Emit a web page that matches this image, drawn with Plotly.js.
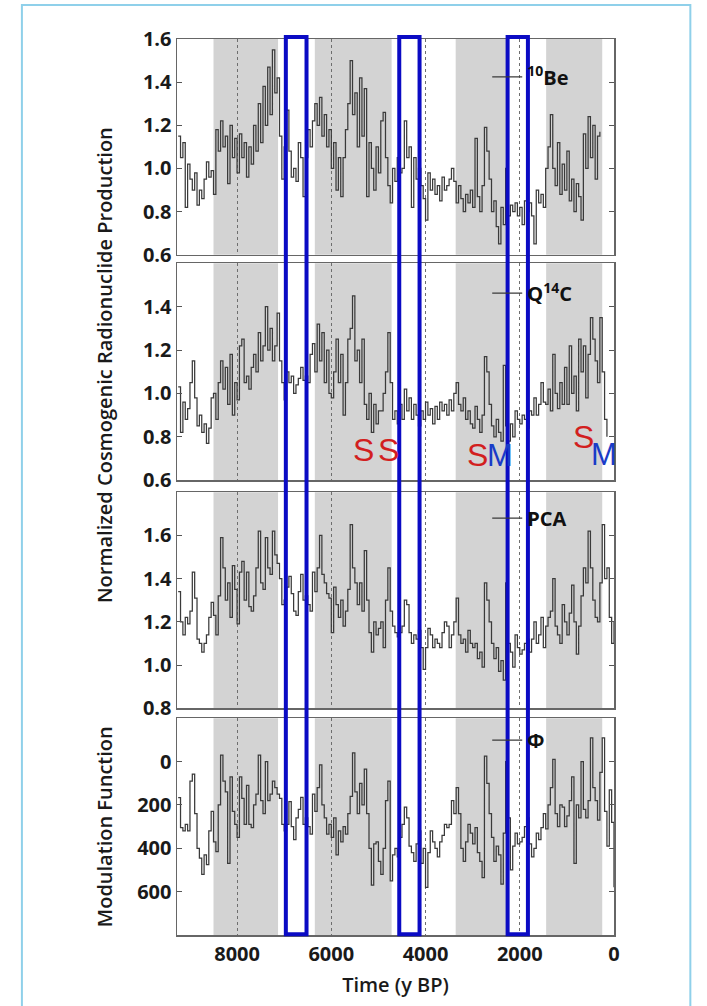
<!DOCTYPE html>
<html>
<head>
<meta charset="utf-8">
<script src="https://cdn.plot.ly/plotly-3.0.1.min.js"></script>
<style>
  html, body { margin: 0; padding: 0; background: #ffffff; }
  #chart { width: 707px; height: 1006px; }
</style>
</head>
<body>
<div id="chart"></div>
<script>
// Time axis (years before present), 50-year sampling
const YEARS = [
  9250, 9200, 9150, 9100, 9050, 9000, 8950, 8900, 8850, 8800,
  8750, 8700, 8650, 8600, 8550, 8500, 8450, 8400, 8350, 8300,
  8250, 8200, 8150, 8100, 8050, 8000, 7950, 7900, 7850, 7800,
  7750, 7700, 7650, 7600, 7550, 7500, 7450, 7400, 7350, 7300,
  7250, 7200, 7150, 7100, 7050, 7000, 6950, 6900, 6850, 6800,
  6750, 6700, 6650, 6600, 6550, 6500, 6450, 6400, 6350, 6300,
  6250, 6200, 6150, 6100, 6050, 6000, 5950, 5900, 5850, 5800,
  5750, 5700, 5650, 5600, 5550, 5500, 5450, 5400, 5350, 5300,
  5250, 5200, 5150, 5100, 5050, 5000, 4950, 4900, 4850, 4800,
  4750, 4700, 4650, 4600, 4550, 4500, 4450, 4400, 4350, 4300,
  4250, 4200, 4150, 4100, 4050, 4000, 3950, 3900, 3850, 3800,
  3750, 3700, 3650, 3600, 3550, 3500, 3450, 3400, 3350, 3300,
  3250, 3200, 3150, 3100, 3050, 3000, 2950, 2900, 2850, 2800,
  2750, 2700, 2650, 2600, 2550, 2500, 2450, 2400, 2350, 2300,
  2250, 2200, 2150, 2100, 2050, 2000, 1950, 1900, 1850, 1800,
  1750, 1700, 1650, 1600, 1550, 1500, 1450, 1400, 1350, 1300,
  1250, 1200, 1150, 1100, 1050, 1000, 950, 900, 850, 800,
  750, 700, 650, 600, 550, 500, 450, 400, 350, 300,
  250, 200, 150, 100, 50, 0
];

// 10Be normalized production (9250 .. 300 y BP)
const BE10 = [
  1.15, 1.05, 1.12, 0.82, 1.02, 0.95, 0.90, 0.98, 0.83, 0.90,
  0.86, 0.95, 1.03, 0.96, 0.99, 0.88, 1.18, 1.08, 1.22, 1.10,
  1.15, 0.93, 1.20, 1.05, 1.14, 0.98, 1.16, 1.05, 1.12, 0.96,
  1.10, 1.02, 1.20, 1.08, 1.30, 1.12, 1.38, 1.20, 1.47, 1.25,
  1.55, 1.35, 1.42, 1.15, 0.95, 1.10, 1.27, 1.08, 0.96, 1.00,
  0.94, 1.12, 1.05, 0.87, 1.05, 1.18, 1.10, 1.22, 1.30, 1.20,
  1.33, 1.15, 1.25, 1.10, 1.18, 1.00, 1.12, 0.90, 1.05, 0.87,
  1.05, 1.18, 1.30, 1.50, 1.25, 1.35, 1.10, 1.42, 1.15, 1.37,
  0.87, 1.12, 1.00, 0.90, 1.10, 0.98, 1.22, 1.26, 1.05, 0.92,
  0.84, 1.00, 0.94, 1.05, 0.98, 1.00, 1.22, 1.05, 1.10, 0.82,
  1.05, 0.95, 1.00, 0.92, 0.86, 0.76, 0.98, 0.90, 0.95, 0.88,
  0.92, 0.85, 0.96, 0.90, 0.92, 0.95, 1.00, 0.94, 0.84, 0.92,
  0.86, 0.80, 0.88, 0.84, 0.90, 0.82, 1.14, 0.87, 0.80, 0.92,
  1.19, 1.08, 0.95, 0.80, 0.85, 0.73, 0.65, 0.82, 0.74, 1.00,
  0.78, 0.83, 0.80, 0.84, 0.78, 0.82, 0.74, 0.85, 0.80, 0.84,
  0.78, 0.65, 0.90, 0.84, 0.88, 0.82, 1.00, 1.10, 1.25, 1.00,
  0.92, 1.12, 0.88, 1.02, 0.90, 1.08, 0.85, 0.95, 0.80, 0.93,
  0.87, 0.76, 1.16, 1.00, 1.24, 1.05, 1.20, 0.95, 1.15, 1.17
];

// Q14C normalized production (9250 .. 150 y BP)
const Q14C = [
  1.03, 0.82, 0.96, 0.88, 0.93, 1.05, 1.15, 0.98, 0.85, 0.90,
  0.82, 0.86, 0.77, 0.84, 0.98, 1.00, 0.88, 1.05, 1.15, 1.02,
  1.12, 0.95, 1.18, 0.90, 1.05, 0.97, 1.22, 1.25, 1.05, 1.08,
  1.02, 1.12, 1.18, 1.10, 1.28, 1.15, 1.22, 1.40, 1.20, 1.30,
  1.15, 1.22, 1.37, 1.15, 1.05, 0.97, 1.10, 1.05, 1.08, 1.00,
  1.04, 1.07, 1.12, 1.06, 1.08, 1.05, 1.18, 1.23, 1.10, 1.32,
  1.15, 1.28, 1.05, 1.20, 1.00, 0.98, 1.10, 1.25, 1.05, 1.18,
  0.90, 1.05, 1.25, 1.30, 1.45, 1.15, 1.20, 1.05, 1.25, 0.95,
  0.88, 1.00, 0.82, 0.95, 0.86, 0.92, 0.92, 1.00, 1.10, 1.28,
  1.05, 0.88, 0.92, 0.86, 0.95, 0.88, 1.02, 0.92, 0.98, 0.88,
  0.95, 0.90, 0.85, 0.92, 0.88, 0.96, 0.90, 0.93, 0.86, 0.94,
  0.88, 0.96, 0.92, 0.95, 0.90, 0.97, 0.92, 1.00, 1.05, 0.95,
  0.92, 0.98, 0.88, 0.92, 0.86, 0.84, 0.94, 0.88, 0.82, 0.90,
  1.17, 1.10, 0.95, 0.85, 0.80, 0.88, 0.82, 0.78, 1.13, 0.85,
  0.78, 0.86, 0.80, 0.92, 0.88, 0.86, 0.90, 0.88, 0.84, 0.92,
  0.90, 0.98, 0.90, 0.95, 1.05, 0.96, 0.95, 1.02, 0.92, 1.18,
  1.00, 0.93, 1.05, 0.95, 1.12, 0.95, 1.22, 1.00, 1.08, 0.92,
  1.25, 1.10, 1.22, 0.98, 1.18, 1.35, 1.25, 1.15, 1.05, 1.35,
  1.10, 0.88, 0.80
];

// First principal component of the two records (9250 .. 0 y BP)
const PCA = [
  1.34, 1.20, 1.14, 1.22, 1.19, 1.25, 1.43, 1.31, 1.12, 1.10,
  1.06, 1.10, 1.14, 1.22, 1.29, 1.23, 1.14, 1.32, 1.59, 1.45,
  1.30, 1.38, 1.22, 1.46, 1.35, 1.19, 1.43, 1.48, 1.30, 1.43,
  1.27, 1.25, 1.32, 1.45, 1.62, 1.38, 1.35, 1.59, 1.45, 1.42,
  1.62, 1.51, 1.47, 1.40, 1.28, 1.30, 1.36, 1.41, 1.33, 1.25,
  1.23, 1.34, 1.42, 1.30, 1.32, 1.28, 1.25, 1.43, 1.34, 1.45,
  1.60, 1.42, 1.38, 1.33, 1.31, 1.15, 1.36, 1.28, 1.22, 1.30,
  1.18, 1.25, 1.35, 1.65, 1.45, 1.38, 1.28, 1.38, 1.25, 1.53,
  1.30, 1.15, 1.06, 1.20, 1.14, 1.17, 1.20, 1.08, 1.30, 1.45,
  1.25, 1.18, 1.15, 1.13, 1.15, 1.18, 1.30, 1.28, 1.15, 1.10,
  1.14, 1.12, 1.16, 1.08, 0.98, 1.08, 1.17, 1.14, 1.08, 1.12,
  1.10, 1.08, 1.15, 1.20, 1.18, 1.08, 1.14, 1.20, 1.31, 1.14,
  1.10, 1.12, 1.06, 1.16, 1.10, 1.08, 1.10, 1.03, 1.06, 0.99,
  1.38, 1.30, 1.20, 1.10, 1.03, 1.08, 0.97, 1.02, 0.93, 1.38,
  1.10, 1.06, 0.99, 1.14, 1.08, 1.05, 1.07, 1.10, 1.12, 1.06,
  1.12, 1.20, 1.10, 1.14, 1.22, 1.08, 1.18, 1.22, 1.25, 1.40,
  1.18, 1.14, 1.10, 1.28, 1.20, 1.14, 1.24, 1.37, 1.20, 1.05,
  1.18, 1.32, 1.45, 1.38, 1.62, 1.45, 1.30, 1.22, 1.20, 1.38,
  1.65, 1.40, 1.45, 1.22, 1.10, 1.20
];

// Solar modulation function, MV (9250 .. 0 y BP)
const PHI = [
  166, 305, 320, 290, 320, 90, 58, 240, 400, 445,
  520, 430, 475, 320, 230, 370, 415, 200, -30, 90,
  140, 470, 70, 230, 290, 350, 70, 170, 290, 110,
  290, 305, 200, 150, -30, 180, 240, 0, 180, 150,
  90, 120, 150, 170, 290, 320, 290, 185, 300, 360,
  260, 220, 165, 290, 260, 300, 335, 150, 230, 120,
  15, 200, 260, 335, 290, 350, 260, 430, 320, 370,
  300, 335, 240, 160, -40, 140, 240, 100, 200, 35,
  240, 400, 570, 380, 370, 460, 520, 400, 180, 90,
  550, 430, 400, 440, 350, 290, 210, 260, 390, 420,
  460, 380, 320, 470, 400, 580, 420, 320, 370, 400,
  440, 370, 340, 290, 305, 290, 180, 240, 120, 240,
  400, 460, 370, 290, 330, 380, 305, 420, 460, 535,
  -25, 100, 240, 350, 460, 390, 430, 565, 330, 0,
  260, 500, 390, 330, 380, 370, 350, 300, 260, 380,
  440, 400, 330, 360, 305, 240, 310, 200, 120, -10,
  240, 300, 200, 210, 300, 250, 180, 70, 470, 200,
  260, 0, 220, 260, 180, -110, 120, 180, 270, 50,
  -110, 230, 390, 130, 280, 580
];

// Shaded intervals [older, younger] in y BP
const BANDS = [[8500, 7130], [6350, 4720], [3360, 2265], [1440, 250]];
// Highlighted windows [older, younger] in y BP
const WINDOWS = [[6965, 6526], [4558, 4127], [2258, 1827]];
// Grand-minimum markers on the Q14C panel: [letter, year, value]
const MARKERS = [
  ['S', 5308, 0.738], ['S', 4777, 0.738], ['S', 2900, 0.715],
  ['M', 2430, 0.715], ['S', 658, 0.80], ['M', 206, 0.72]
];
const X_TICKS = [8000, 6000, 4000, 2000, 0];
const TICKS_1 = [0.6, 0.8, 1.0, 1.2, 1.4, 1.6];
const TICKS_2 = [0.6, 0.8, 1.0, 1.2, 1.4];
const TICKS_3 = [0.8, 1.0, 1.2, 1.4, 1.6];
const TICKS_4 = [0, 200, 400, 600];

const LINE = {color: '#3a3a3a', width: 1.25, shape: 'hv'};
const tickFont = {family: 'Open Sans, sans-serif', size: 20, weight: 700, color: '#1a1a1a'};
const titleFont = {family: 'Open Sans, sans-serif', size: 20, weight: 600, color: '#1a1a1a'};

const traces = [
  {x: YEARS.slice(0, BE10.length), y: BE10, name: '<sup>10</sup>Be', xaxis: 'x', yaxis: 'y', legend: 'legend'},
  {x: YEARS.slice(0, Q14C.length), y: Q14C, name: 'Q<sup>14</sup>C', xaxis: 'x', yaxis: 'y2', legend: 'legend2'},
  {x: YEARS.slice(0, PCA.length), y: PCA, name: 'PCA', xaxis: 'x', yaxis: 'y3', legend: 'legend3'},
  {x: YEARS.slice(0, PHI.length), y: PHI, name: 'Φ', xaxis: 'x', yaxis: 'y4', legend: 'legend4'}
].map(t => Object.assign({type: 'scatter', mode: 'lines', line: LINE, hoverinfo: 'skip'}, t));

function yAxis(domain, range, tickvals, fmt) {
  return {
    domain: domain, range: range, tickvals: tickvals, tickformat: fmt,
    ticks: 'inside', ticklen: 5, tickwidth: 1, tickcolor: '#555',
    showline: true, mirror: 'ticks', linecolor: '#666', linewidth: 1.5,
    showgrid: false, zeroline: false, tickfont: tickFont, anchor: 'x'
  };
}

function legendAt(y) {
  return {
    x: 0.7099, xanchor: 'left', y: y, yanchor: 'middle',
    bgcolor: 'rgba(0,0,0,0)', borderwidth: 0, itemwidth: 30,
    font: {family: 'Open Sans, sans-serif', size: 20, weight: 700, color: '#111'}
  };
}

const shapes = [];
['y', 'y2', 'y3', 'y4'].forEach(ax => {
  BANDS.forEach(b => shapes.push({
    type: 'rect', xref: 'x', yref: ax + ' domain', x0: b[0], x1: b[1], y0: 0, y1: 1,
    fillcolor: '#d3d3d3', line: {width: 0}, layer: 'below'
  }));
});
WINDOWS.forEach(w => shapes.push({
  type: 'rect', xref: 'x', yref: 'paper', x0: w[0], x1: w[1], y0: 0.0008, y1: 1.0022,
  fillcolor: 'rgba(0,0,0,0)', line: {color: '#0b0bc4', width: 4}, layer: 'above'
}));
// light frame around the figure
shapes.push({
  type: 'rect', xref: 'paper', yref: 'paper', x0: -0.3549, x1: 1.1747, y0: -0.12, y1: 1.038,
  fillcolor: 'rgba(0,0,0,0)', line: {color: '#8fd0ea', width: 2}, layer: 'above'
});

const annotations = [
  {text: 'Normalized Cosmogenic Radionuclide Production', xref: 'paper', yref: 'paper',
   x: -0.1672, y: 0.636, xanchor: 'center', yanchor: 'middle', textangle: -90,
   showarrow: false, font: titleFont},
  {text: 'Modulation Function', xref: 'paper', yref: 'paper',
   x: -0.1672, y: 0.1213, xanchor: 'center', yanchor: 'middle', textangle: -90,
   showarrow: false, font: titleFont}
];
MARKERS.forEach(m => annotations.push({
  text: m[0], xref: 'x', yref: 'y2', x: m[1], y: m[2], showarrow: false,
  xanchor: 'center', yanchor: 'middle',
  font: {family: 'Liberation Sans, Arial, sans-serif', size: m[0] === 'S' ? 32 : 31,
         color: m[0] === 'S' ? '#d21f1f' : '#1a3cc8'}
}));

const layout = {
  width: 707, height: 1006,
  margin: {l: 177, r: 93.3, t: 39, b: 71.3, pad: 0},
  paper_bgcolor: '#ffffff', plot_bgcolor: 'rgba(0,0,0,0)',
  font: {family: 'Open Sans, sans-serif', color: '#1a1a1a'},
  showlegend: true,
  xaxis: {
    range: [9275, 0], anchor: 'y4', tickvals: X_TICKS, ticks: '',
    showgrid: true, gridcolor: '#6e6e6e', griddash: 'dot', gridwidth: 1,
    showline: true, linecolor: '#666', linewidth: 1.5, mirror: 'all', zeroline: false,
    tickfont: tickFont,
    title: {text: 'Time (y BP)', font: titleFont, standoff: 12}
  },
  yaxis: yAxis([0.7592, 1], [0.6, 1.6], TICKS_1, '.1f'),
  yaxis2: yAxis([0.5076, 0.7496], [0.6, 1.6], TICKS_2, '.1f'),
  yaxis3: yAxis([0.2531, 0.4942], [0.8, 1.8], TICKS_3, '.1f'),
  yaxis4: yAxis([0, 0.2419], [800, -200], TICKS_4, 'd'),
  legend: legendAt(0.9576),
  legend2: legendAt(0.7164),
  legend3: legendAt(0.4652),
  legend4: legendAt(0.2174),
  shapes: shapes,
  annotations: annotations
};

Plotly.newPlot('chart', traces, layout, {staticPlot: true, displayModeBar: false});
</script>
</body>
</html>
